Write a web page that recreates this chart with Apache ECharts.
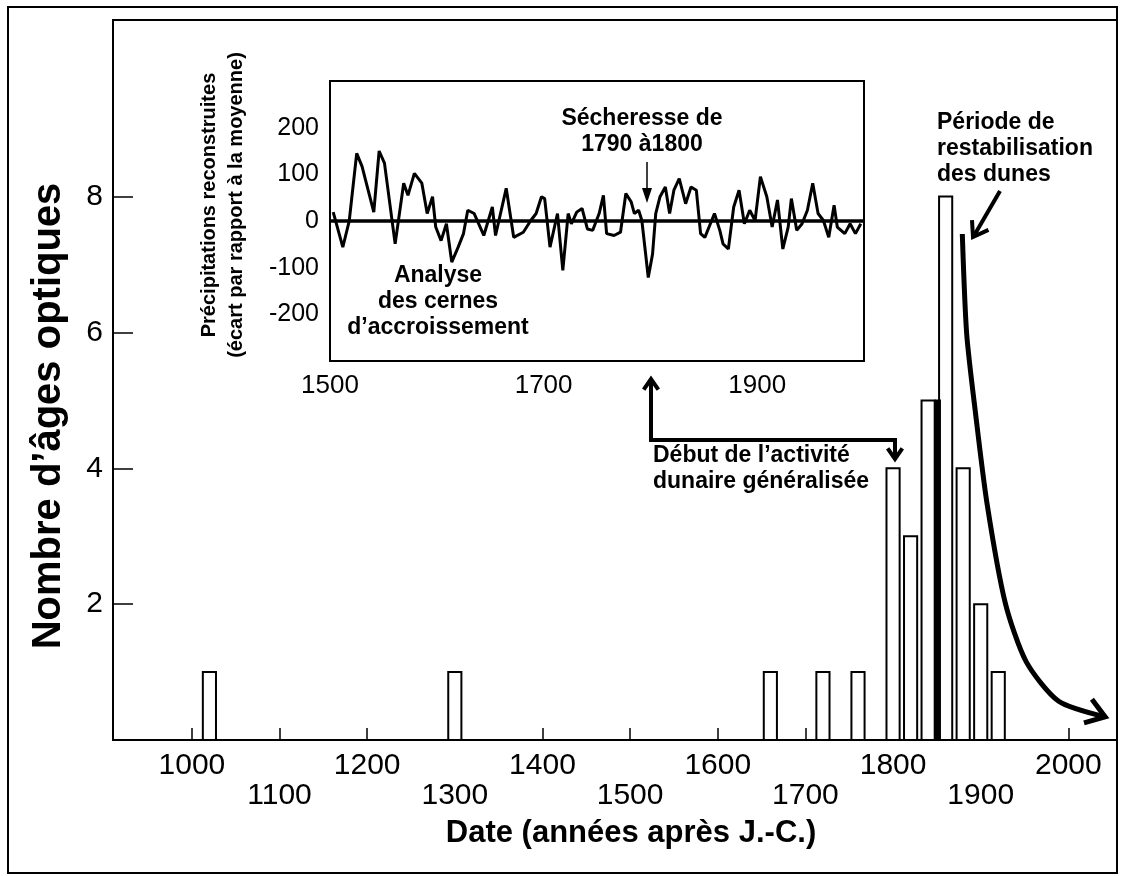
<!DOCTYPE html>
<html>
<head>
<meta charset="utf-8">
<script src="https://cdn.jsdelivr.net/npm/echarts@6/dist/echarts.min.js"></script>
<style>
html, body { margin: 0; padding: 0; background: #fff; }
#chart { width: 1123px; height: 876px; }
</style>
</head>
<body>
<div id="chart"></div>
<script>
// histogramme des âges optiques (centre des classes de 20 ans)
var ageYears  = [1020, 1300, 1660, 1720, 1760, 1800, 1820, 1840, 1860, 1880, 1900, 1920];
var ageCounts = [1, 1, 1, 1, 1, 4, 3, 5, 8, 4, 2, 1];
// barre sombre étroite entre 1840 et 1860
var darkYears  = [1851];
var darkCounts = [5];

var dateTicks  = [1000, 1100, 1200, 1300, 1400, 1500, 1600, 1700, 1800, 1900, 2000];
var countTicks = [2, 4, 6, 8];

// précipitations reconstruites (cernes d'arbres), encart
var rainYears = [1503, 1512, 1518, 1525, 1530, 1541, 1546, 1551, 1561, 1569, 1573, 1579, 1586, 1591,
  1596, 1599, 1604, 1609, 1614, 1620, 1625, 1629, 1635, 1644, 1652, 1655, 1665, 1672, 1681, 1688,
  1693, 1698, 1701, 1706, 1713, 1718, 1723, 1726, 1731, 1736, 1741, 1746, 1752, 1756, 1759, 1766,
  1772, 1777, 1782, 1785, 1789, 1792, 1798, 1802, 1805, 1809, 1814, 1818, 1822, 1827, 1833, 1838,
  1843, 1847, 1851, 1860, 1865, 1868, 1873, 1878, 1883, 1888, 1893, 1898, 1903, 1909, 1914, 1919,
  1924, 1929, 1932, 1937, 1942, 1947, 1952, 1957, 1962, 1967, 1972, 1975, 1982, 1987, 1992, 1997];
var rainValues = [19, -56, 0, 145, 117, 19, 150, 124, -49, 81, 55, 102, 81, 16,
  52, -13, -42, -6, -88, -56, -27, 23, 16, -31, 30, -31, 70, -35, -24, 1,
  16, 52, 48, -56, 16, -106, 16, -6, 19, 27, -17, -20, 16, 55, -27, -31,
  -24, 59, 41, 16, 23, 1, -121, -71, 16, 52, 73, 16, 66, 91, 37, 73,
  66, -27, -35, 16, -20, -49, -60, 30, 66, -6, 23, 1, 95, 52, -13, 45,
  -60, -13, 48, -20, -6, 23, 81, 16, 1, -35, 34, -13, -27, -6, -27, -6];
var rainTicks      = [-200, -100, 0, 100, 200];
var rainYearTicks  = [1500, 1600, 1700, 1800, 1900, 2000];
var rainYearLabels = [1500, 1700, 1900];

// courbe de restabilisation (tracée à la main)
var curveYears  = [1879, 1884, 1894, 1907, 1928, 1952, 1989, 2042];
var curveCounts = [7.45, 5.98, 4.82, 3.5, 2.02, 1.15, 0.57, 0.34];

var FONT = '"Liberation Sans", Arial, Helvetica, sans-serif';

function boxBar(halfWidth, fill) {
  return function (params, api) {
    var yr = api.value(0), n = api.value(1);
    var p0 = api.coord([yr - halfWidth, n]);
    var p1 = api.coord([yr + halfWidth, 0]);
    return {
      type: 'rect',
      shape: { x: p0[0], y: p0[1], width: p1[0] - p0[0], height: p1[1] - p0[1] },
      style: { fill: fill, stroke: '#000', lineWidth: 2 }
    };
  };
}

function chevron(x, y, ang, size, lw) {
  var a = 0.6;
  return {
    type: 'polyline',
    shape: { points: [
      [x - size * Math.cos(ang - a), y - size * Math.sin(ang - a)],
      [x, y],
      [x - size * Math.cos(ang + a), y - size * Math.sin(ang + a)]
    ] },
    style: { stroke: '#000', lineWidth: lw, fill: null, lineJoin: 'miter' },
    z: 20
  };
}

function label(x, y, txt, size, align) {
  return {
    type: 'text', x: x, y: y, z: 20,
    style: {
      text: txt, font: 'bold ' + size + 'px ' + FONT, fill: '#000',
      textAlign: align || 'center', textVerticalAlign: 'middle', lineHeight: size + 3
    }
  };
}

var myChart = echarts.init(document.getElementById('chart'));

var option = {
  backgroundColor: '#fff',
  animation: false,
  grid: [
    { left: 113, top: 20, right: 6, bottom: 136, show: true, borderColor: '#000', borderWidth: 2 },
    { left: 330, top: 81, width: 534, height: 280, show: true, borderColor: '#000', borderWidth: 2, backgroundColor: '#fff', z: 3 }
  ],
  xAxis: [
    {
      type: 'value', gridIndex: 0, min: 910, max: 2055.5,
      axisLine: { lineStyle: { color: '#000', width: 2 } },
      axisTick: { inside: true, length: 12, customValues: dateTicks, lineStyle: { color: '#000', width: 1.5 } },
      axisLabel: {
        customValues: dateTicks, color: '#000', fontSize: 30, fontFamily: FONT, margin: 11, lineHeight: 30,
        formatter: function (v) { return (v / 100) % 2 === 0 ? v + '\n ' : ' \n' + v; }
      },
      splitLine: { show: false }
    },
    {
      type: 'value', gridIndex: 1, min: 1500, max: 2000, interval: 100,
      axisLine: { lineStyle: { color: '#000', width: 2 } },
      axisTick: { inside: true, length: 9, customValues: rainYearTicks, lineStyle: { color: '#000', width: 1.5 } },
      axisLabel: {
        customValues: rainYearLabels, color: '#000', fontSize: 26, fontFamily: FONT, margin: 12,
        formatter: function (v) { return String(v); }
      },
      splitLine: { show: false }
    }
  ],
  yAxis: [
    {
      type: 'value', gridIndex: 0, min: 0, max: 10.6,
      axisLine: { show: true, lineStyle: { color: '#000', width: 2 } },
      axisTick: { show: true, inside: true, length: 20, customValues: countTicks, lineStyle: { color: '#000', width: 1.5 } },
      axisLabel: { customValues: countTicks, color: '#000', fontSize: 30, fontFamily: FONT, margin: 10 },
      splitLine: { show: false }
    },
    {
      type: 'value', gridIndex: 1, min: -300, max: 300, interval: 100,
      axisLine: { show: true, lineStyle: { color: '#000', width: 2 } },
      axisTick: { show: true, inside: true, length: 9, customValues: rainTicks, lineStyle: { color: '#000', width: 1.5 } },
      axisLabel: { customValues: rainTicks, color: '#000', fontSize: 25, fontFamily: FONT, margin: 11 },
      splitLine: { show: false }
    },
    {
      type: 'value', gridIndex: 1, min: -300, max: 300, interval: 100, position: 'right',
      axisLine: { show: true, lineStyle: { color: '#000', width: 2 } },
      axisTick: { show: true, inside: true, length: 9, customValues: rainTicks, lineStyle: { color: '#000', width: 1.5 } },
      axisLabel: { show: false },
      splitLine: { show: false }
    }
  ],
  series: [
    {
      name: 'âges', type: 'custom', xAxisIndex: 0, yAxisIndex: 0,
      encode: { x: 0, y: 1 }, renderItem: boxBar(7.5, '#fff'),
      data: ageYears.map(function (y, i) { return [y, ageCounts[i]]; })
    },
    {
      name: 'sombre', type: 'custom', xAxisIndex: 0, yAxisIndex: 0,
      encode: { x: 0, y: 1 }, renderItem: boxBar(2.5, '#000'),
      data: darkYears.map(function (y, i) { return [y, darkCounts[i]]; })
    },
    {
      name: 'restabilisation', type: 'line', xAxisIndex: 0, yAxisIndex: 0,
      symbol: 'none', smooth: 0.25, z: 6,
      lineStyle: { color: '#000', width: 5 },
      data: curveYears.map(function (y, i) { return [y, curveCounts[i]]; })
    },
    {
      name: 'précipitations', type: 'line', xAxisIndex: 1, yAxisIndex: 1,
      symbol: 'none', z: 6,
      lineStyle: { color: '#000', width: 3 },
      data: rainYears.map(function (y, i) { return [y, rainValues[i]]; }),
      markLine: {
        silent: true, symbol: 'none', label: { show: false },
        lineStyle: { color: '#000', width: 3.5, type: 'solid' },
        data: [{ yAxis: 0 }]
      }
    }
  ]
};
myChart.setOption(option);

// annotations
var last = myChart.convertToPixel({ gridIndex: 0 }, [curveYears[curveYears.length - 1], curveCounts[curveCounts.length - 1]]);
var prev = myChart.convertToPixel({ gridIndex: 0 }, [curveYears[curveYears.length - 2], curveCounts[curveCounts.length - 2]]);
var curveAng = Math.atan2(last[1] - prev[1], last[0] - prev[0]);

var duneAng = Math.atan2(236 - 191, 973 - 1000);

myChart.setOption({
  graphic: [
    { type: 'rect', shape: { x: 8, y: 7, width: 1109, height: 866 }, style: { fill: null, stroke: '#000', lineWidth: 2 }, z: 30 },
    {
      type: 'text', x: 49, y: 416, rotation: Math.PI / 2, z: 20,
      style: { text: 'Nombre d\u2019âges optiques', font: 'bold 40px ' + FONT, fill: '#000', textAlign: 'center', textVerticalAlign: 'middle' }
    },
    label(631, 833, 'Date (années après J.-C.)', 31),
    {
      type: 'text', x: 223, y: 205, rotation: Math.PI / 2, z: 20,
      style: { text: 'Précipitations reconstruites\n(écart par rapport à la moyenne)', font: 'bold 20px ' + FONT, fill: '#000', textAlign: 'center', textVerticalAlign: 'middle', lineHeight: 27 }
    },
    label(642, 132, 'Sécheresse de\n1790 à1800', 23),
    label(438, 302, 'Analyse\ndes cernes\nd\u2019accroissement', 23),
    label(653, 469, 'Début de l\u2019activité\ndunaire généralisée', 23, 'left'),
    label(937, 149, 'Période de\nrestabilisation\ndes dunes', 23, 'left'),
    // flèche sécheresse
    { type: 'line', shape: { x1: 647, y1: 162, x2: 647, y2: 194 }, style: { stroke: '#000', lineWidth: 1.5 }, z: 20 },
    { type: 'polygon', shape: { points: [[642, 188], [647, 203], [652, 188]] }, style: { fill: '#000' }, z: 20 },
    // flèche début activité
    { type: 'polyline', shape: { points: [[651, 381], [651, 440], [895, 440], [895, 457]] }, style: { stroke: '#000', lineWidth: 4, fill: null }, z: 20 },
    chevron(651, 379, -Math.PI / 2, 13, 4),
    chevron(895, 459, Math.PI / 2, 13, 4),
    // flèche dunes
    { type: 'line', shape: { x1: 1000, y1: 191, x2: 975, y2: 234 }, style: { stroke: '#000', lineWidth: 4 }, z: 20 },
    chevron(973, 237, duneAng, 17, 4),
    chevron(last[0], last[1], curveAng, 22, 5)
  ]
});
</script>
</body>
</html>
